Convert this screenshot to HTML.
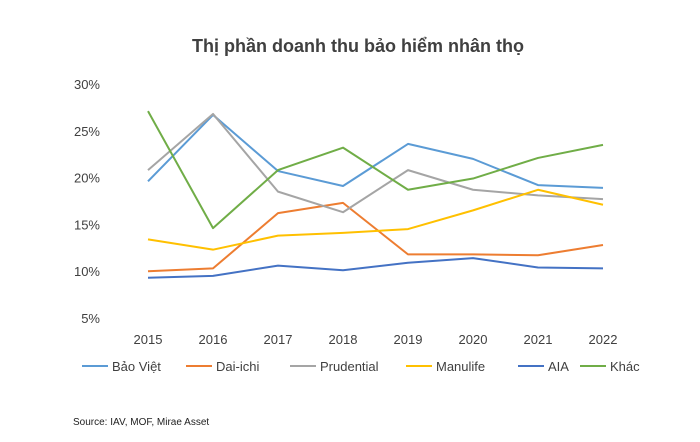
<!DOCTYPE html>
<html><head><meta charset="utf-8"><style>
body{margin:0;background:#fff;width:700px;height:437px;overflow:hidden;font-family:"Liberation Sans","DejaVu Sans",sans-serif}
svg text{font-family:"Liberation Sans","DejaVu Sans",sans-serif}
</style></head><body>
<svg id="chart" width="700" height="437">
<text x="358" y="52" text-anchor="middle" font-size="18" font-weight="bold" fill="#404040">Thị phần doanh thu bảo hiểm nhân thọ</text>
<g id="yaxis"></g><g id="xaxis"></g><g id="series"></g><g id="legend"></g>
<text x="73" y="425" font-size="10" fill="#222">Source: IAV, MOF, Mirae Asset</text>
</svg>
<script>
const years=["2015","2016","2017","2018","2019","2020","2021","2022"];
const yTicks=[5,10,15,20,25,30];
const seriesNames=["Bảo Việt","Dai-ichi","Prudential","Manulife","AIA","Khác"];
const seriesColors=["#5b9bd5","#ed7d31","#a5a5a5","#ffc000","#4472c4","#70ad47"];
const baoViet=[19.6,26.7,20.7,19.1,23.6,22.0,19.2,18.9];
const daiichi=[10.0,10.3,16.2,17.3,11.8,11.8,11.7,12.8];
const prudential=[20.8,26.8,18.5,16.3,20.8,18.7,18.1,17.7];
const manulife=[13.4,12.3,13.8,14.1,14.5,16.5,18.7,17.1];
const aia=[9.3,9.5,10.6,10.1,10.9,11.4,10.4,10.3];
const khac=[27.1,14.6,20.8,23.2,18.7,19.9,22.1,23.5];
const allSeries=[baoViet,daiichi,prudential,manulife,aia,khac];
const NS="http://www.w3.org/2000/svg";
const xS=i=>148+i*65;
const yS=v=>318-(v-5)*(234/25);
function mk(tag,attrs,parent){const e=document.createElementNS(NS,tag);for(const k in attrs)e.setAttribute(k,attrs[k]);parent.appendChild(e);return e;}
const ya=document.getElementById('yaxis');
yTicks.forEach(t=>{const e=mk('text',{x:100,y:yS(t)+5,'text-anchor':'end','font-size':13,fill:'#404040'},ya);


e.textContent=t+'%';});
const xa=document.getElementById('xaxis');
years.forEach((y,i)=>{const e=mk('text',{x:xS(i),y:344,'text-anchor':'middle','font-size':13,fill:'#404040'},xa);


e.textContent=y;});
const sg=document.getElementById('series');
allSeries.forEach((s,k)=>{const p=mk('polyline',{points:s.map((v,i)=>xS(i)+','+yS(v)).join(' '),fill:'none',stroke:seriesColors[k],'stroke-width':2,'stroke-linejoin':'round'},sg);

});
const lg=document.getElementById('legend');
const lx=[82,186,290,406,518,580];
seriesNames.forEach((n,k)=>{const g=mk('g',{},lg);


mk('line',{x1:lx[k],x2:lx[k]+26,y1:366,y2:366,stroke:seriesColors[k],'stroke-width':2},g);
const t=mk('text',{x:lx[k]+30,y:371,'font-size':13,fill:'#404040'},g);t.textContent=n;});
</script>
</body></html>
